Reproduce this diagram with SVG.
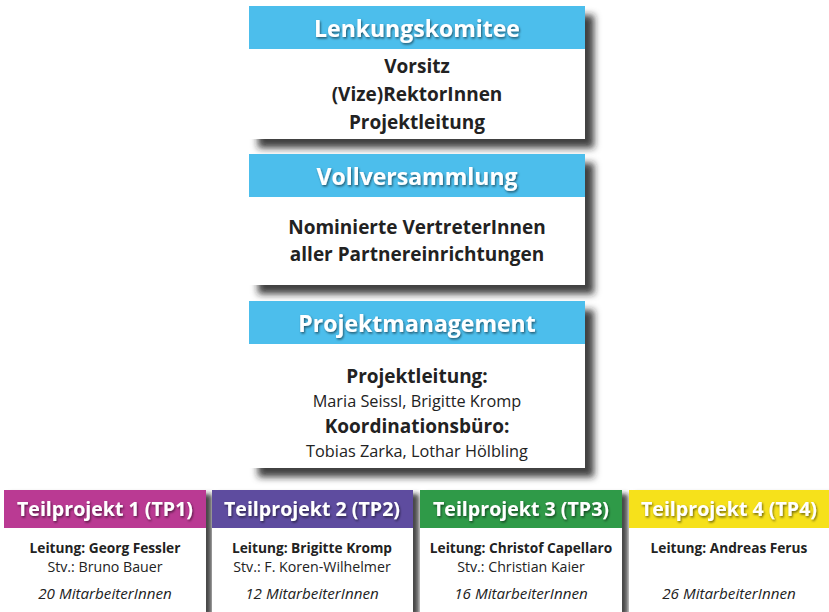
<svg xmlns="http://www.w3.org/2000/svg" width="829" height="612" viewBox="0 0 829 612">
<defs>
<filter id="sh" x="-10%" y="-10%" width="130%" height="140%">
<feDropShadow dx="9" dy="9" stdDeviation="3.5" flood-color="#1a1a1a" flood-opacity="0.85"/>
</filter>
<filter id="shs" x="-10%" y="-10%" width="130%" height="140%">
<feDropShadow dx="6" dy="4" stdDeviation="2.5" flood-color="#1a1a1a" flood-opacity="0.8"/>
</filter>
<filter id="ts" x="-10%" y="-20%" width="120%" height="150%">
<feDropShadow dx="1" dy="1.5" stdDeviation="1" flood-color="#000" flood-opacity="0.55"/>
</filter>
</defs>
<style>
text{font-family:"Open Sans",Lato,"Liberation Sans",sans-serif;text-anchor:middle;fill:#222}
.h{font-weight:bold;font-size:23px;fill:#fff;filter:url(#ts)}
.hs{font-weight:bold;font-size:19.6px;fill:#fff;filter:url(#ts)}
.b{font-weight:bold;font-size:19px}
.r{font-size:16.3px}
.sb{font-weight:bold;font-size:13.7px}
.sr{font-size:14.2px}
.si{font-style:italic;font-size:15.2px}
.blue{fill:#4cbeec}
.w{fill:#fff}
</style>
<rect width="829" height="612" fill="#fff"/>
<g id="lenkungskomitee">
<rect x="249" y="6" width="336" height="133" class="w" filter="url(#sh)"/>
<rect x="249" y="6" width="336" height="43" class="blue"/>
<text x="417" y="37" class="h">Lenkungskomitee</text>
<text x="417" y="73" class="b">Vorsitz</text>
<text x="417" y="101" class="b">(Vize)RektorInnen</text>
<text x="417" y="129" class="b">Projektleitung</text>
</g>
<g id="vollversammlung">
<rect x="249" y="154" width="336" height="131" class="w" filter="url(#sh)"/>
<rect x="249" y="154" width="336" height="43" class="blue"/>
<text x="417" y="185" class="h">Vollversammlung</text>
<text x="417" y="234" class="b">Nominierte VertreterInnen</text>
<text x="417" y="261" class="b">aller Partnereinrichtungen</text>
</g>
<g id="projektmanagement">
<rect x="249" y="301" width="336" height="167" class="w" filter="url(#sh)"/>
<rect x="249" y="301" width="336" height="43" class="blue"/>
<text x="417" y="332" class="h">Projektmanagement</text>
<text x="417" y="383" class="b">Projektleitung:</text>
<text x="417" y="407" class="r">Maria Seissl, Brigitte Kromp</text>
<text x="417" y="433" class="b">Koordinationsbüro:</text>
<text x="417" y="457" class="r">Tobias Zarka, Lothar Hölbling</text>
</g>
<g id="tp1">
<rect x="4" y="490" width="202" height="122" class="w" filter="url(#shs)"/>
<rect x="4" y="490" width="202" height="38" fill="#ba3a93"/>
<text x="105" y="516" class="hs">Teilprojekt 1 (TP1)</text>
<text x="105" y="553" class="sb">Leitung: Georg Fessler</text>
<text x="105" y="572" class="sr">Stv.: Bruno Bauer</text>
<text x="105" y="599" class="si">20 MitarbeiterInnen</text>
</g>
<g id="tp2">
<rect x="212" y="490" width="201" height="122" class="w" filter="url(#shs)"/>
<rect x="212" y="490" width="201" height="38" fill="#5e4c9f"/>
<text x="312" y="516" class="hs">Teilprojekt 2 (TP2)</text>
<text x="312" y="553" class="sb">Leitung: Brigitte Kromp</text>
<text x="312" y="572" class="sr">Stv.: F. Koren-Wilhelmer</text>
<text x="312" y="599" class="si">12 MitarbeiterInnen</text>
</g>
<g id="tp3">
<rect x="420" y="490" width="202" height="122" class="w" filter="url(#shs)"/>
<rect x="420" y="490" width="202" height="38" fill="#2f9a48"/>
<text x="521" y="516" class="hs">Teilprojekt 3 (TP3)</text>
<text x="521" y="553" class="sb">Leitung: Christof Capellaro</text>
<text x="521" y="572" class="sr">Stv.: Christian Kaier</text>
<text x="521" y="599" class="si">16 MitarbeiterInnen</text>
</g>
<g id="tp4">
<rect x="629" y="490" width="200" height="122" class="w" filter="url(#shs)"/>
<rect x="629" y="490" width="200" height="38" fill="#f6e11b"/>
<text x="729" y="516" class="hs">Teilprojekt 4 (TP4)</text>
<text x="729" y="553" class="sb">Leitung: Andreas Ferus</text>
<text x="729" y="599" class="si">26 MitarbeiterInnen</text>
</g>
<g id="connectors"/>
</svg>
